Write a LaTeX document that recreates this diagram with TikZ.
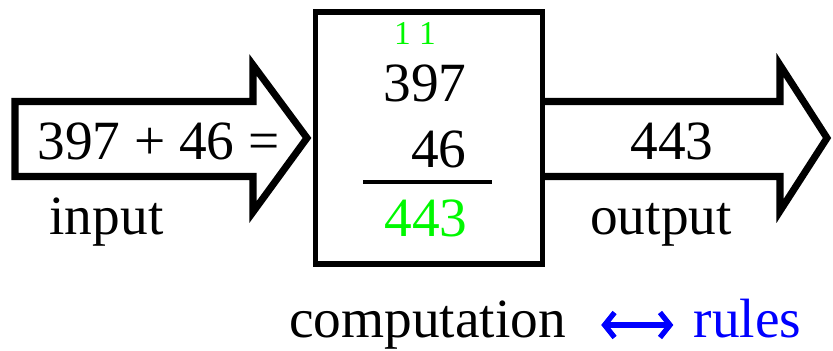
\documentclass[tikz,border=0pt]{standalone}
\usepackage{fontspec}
\setmainfont{Liberation Serif}
\usepackage{xcolor}
\usetikzlibrary{arrows.meta,calc}
\definecolor{carrygreen}{RGB}{0,248,0}
\definecolor{rulesblue}{RGB}{0,0,255}

\begin{document}
\begin{tikzpicture}[>=Stealth,
  big/.style={font=\fontsize{31.5}{37}\selectfont,inner sep=0pt},
  small/.style={font=\fontsize{19}{23}\selectfont,inner sep=0pt},
  fatarrow/.style={line width=4pt,line join=miter}]

%% ── canvas ──────────────────────────────────────────────────────────────────
\useasboundingbox (0,0) rectangle (16.66,7.02);

%% ── input arrow ─────────────────────────────────────────────────────────────
\draw[fatarrow] (0.30,4.99) -- (5.06,4.99) -- (5.06,5.72) -- (6.14,4.26)
  -- (5.06,2.78) -- (5.06,3.49) -- (0.30,3.49) -- cycle;
\node[big,anchor=base] (sum) at (3.17,3.82) {397 + 46 =};
\node[big,anchor=base] (input) at (2.13,2.32) {input};

%% ── computation box ─────────────────────────────────────────────────────────
\draw[line width=3.4pt] (6.31,1.74) rectangle (10.85,6.78);
\node[small,anchor=base,carrygreen] (carry) at (8.30,6.12) {1 1};
\node[big,anchor=base east] (top) at (9.34,4.98) {397};
\node[big,anchor=base east] (bottom) at (9.34,3.66) {46};
\draw[line width=1.8pt] (7.26,3.38) -- (9.84,3.38);
\node[big,anchor=base,carrygreen] (result) at (8.52,2.28) {443};

%% ── output arrow ────────────────────────────────────────────────────────────
\draw[fatarrow] (10.85,4.99) -- (15.60,4.99) -- (15.60,5.72) -- (16.54,4.26)
  -- (15.60,2.80) -- (15.60,3.49) -- (10.85,3.49);
\node[big,anchor=base] (answer) at (13.44,3.82) {443};
\node[big,anchor=base] (output) at (13.22,2.32) {output};

%% ── caption line ────────────────────────────────────────────────────────────
\node[big,anchor=base] (comp) at (8.55,0.26) {computation};
\node[big,anchor=base,rulesblue] (rules) at (14.95,0.26) {rules};
\draw[rulesblue,line width=3pt,{Straight Barb[length=0.2cm,width=0.5cm]}-{Straight Barb[length=0.2cm,width=0.5cm]}]
  ($(comp.base east)+(0.70,0.26)$) -- ($(rules.base west)+(-0.40,0.26)$);

\end{tikzpicture}
\end{document}
